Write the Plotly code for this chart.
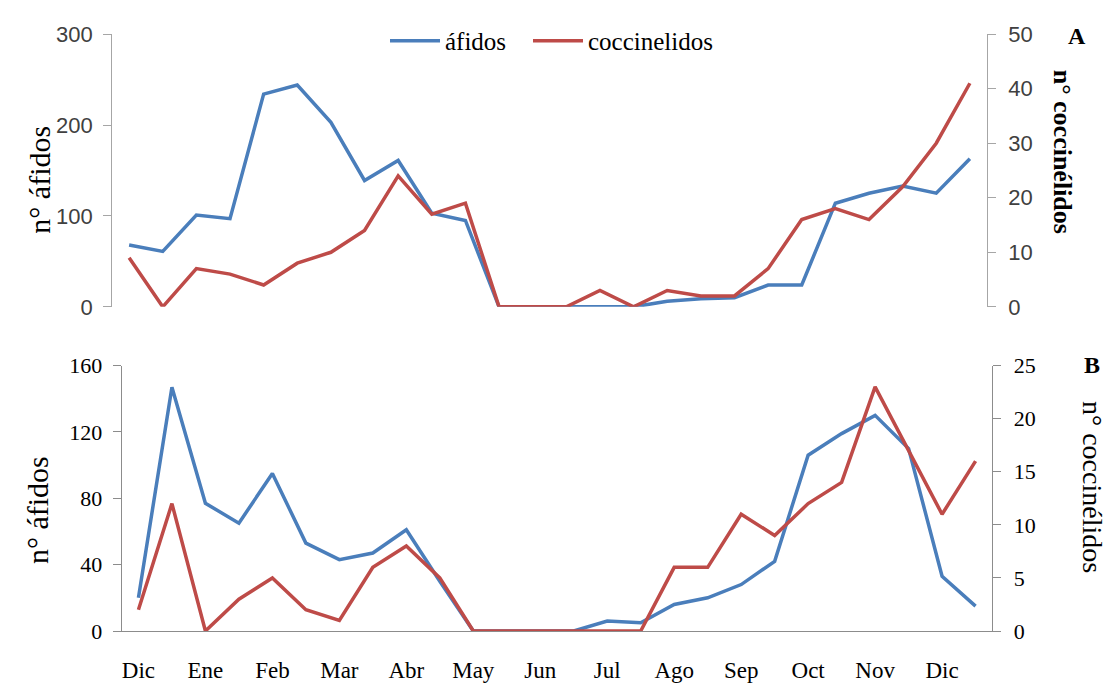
import plotly.graph_objects as go

# ---- data ----
months = ["Dic", "Ene", "Feb", "Mar", "Abr", "May", "Jun", "Jul", "Ago", "Sep", "Oct", "Nov", "Dic"]
n_points = 26  # two samples per month

# Panel A
a_afidos = [68, 61, 101, 97, 234, 244, 203, 139, 161, 103, 95, 0, 0, 0, 0, 0, 6, 9, 10, 24, 24, 114, 125, 133, 125, 163]
a_cocc = [9, 0, 7, 6, 4, 8, 10, 14, 24, 17, 19, 0, 0, 0, 3, 0, 3, 2, 2, 7, 16, 18, 16, 22, 30, 41]

# Panel B
b_afidos = [20, 147, 77, 65, 95, 53, 43, 47, 61, 30, 0, 0, 0, 0, 6, 5, 16, 20, 28, 42, 106, 119, 130, 110, 33, 15]
b_cocc = [2, 12, 0, 3, 5, 2, 1, 6, 8, 5, 0, 0, 0, 0, 0, 0, 6, 6, 11, 9, 12, 14, 23, 17, 11, 16]

xs = list(range(n_points))
tickpos = list(range(0, n_points, 2))

BLUE = "#4a7ebb"
RED = "#be4b48"
SERIF = "Liberation Serif, Times New Roman, serif"
SANS = "Liberation Sans, Arial, sans-serif"
W, H = 1117, 684
LW = 3.5

def px(x):
    return x / W

def py(y):
    return (H - y) / H

fig = go.Figure()

fig.add_trace(go.Scatter(x=xs, y=a_afidos, mode="lines", name="áfidos", legendwidth=78,
                         line=dict(color=BLUE, width=LW), xaxis="x", yaxis="y"))
fig.add_trace(go.Scatter(x=xs, y=a_cocc, mode="lines", name="coccinelidos",
                         line=dict(color=RED, width=LW), xaxis="x", yaxis="y2"))
fig.add_trace(go.Scatter(x=xs, y=b_afidos, mode="lines", name="áfidos", showlegend=False,
                         line=dict(color=BLUE, width=LW), xaxis="x2", yaxis="y3"))
fig.add_trace(go.Scatter(x=xs, y=b_cocc, mode="lines", name="coccinelidos", showlegend=False,
                         line=dict(color=RED, width=LW), xaxis="x2", yaxis="y4"))

top_axis_col = "#a6a6a6"
bot_axis_col = "#8c8c8c"

fig.update_layout(
    width=W, height=H,
    margin=dict(l=0, r=0, t=0, b=0),
    paper_bgcolor="white", plot_bgcolor="white",
    showlegend=True,
    legend=dict(orientation="h", x=px(385), y=py(30), xanchor="left", yanchor="middle",
                font=dict(family=SERIF, size=25, color="#000"), bgcolor="rgba(0,0,0,0)",
                itemwidth=50, tracegroupgap=0),
    xaxis=dict(domain=[px(112.3), px(986.7)], range=[-0.5, n_points - 0.5],
               showline=False, showgrid=False, zeroline=False, showticklabels=False,
               ticks="", anchor="y"),
    yaxis=dict(domain=[py(306), py(23)], range=[0, 300], tickvals=[0, 100, 200, 300],
               showline=True, linecolor=top_axis_col, linewidth=1.3, ticks="outside",
               ticklen=8, tickcolor=top_axis_col, showgrid=False, zeroline=False,
               tickfont=dict(family=SANS, size=22, color="#404040"), ticklabelstandoff=6,
               anchor="x"),
    yaxis2=dict(overlaying="y", side="right", range=[0, 50], tickvals=[0, 10, 20, 30, 40, 50],
                showline=True, linecolor=top_axis_col, linewidth=1.3, ticks="outside",
                ticklen=8, tickcolor=top_axis_col, showgrid=False, zeroline=False,
                tickfont=dict(family=SANS, size=22, color="#404040"), ticklabelstandoff=8,
                anchor="x"),
    xaxis2=dict(domain=[px(121.7), px(992.3)], range=[-0.5, n_points - 0.5],
                tickvals=tickpos, ticktext=months, showline=True, linecolor=bot_axis_col,
                linewidth=1.3, ticks="", showgrid=False, zeroline=False,
                tickfont=dict(family=SERIF, size=23, color="#000"), ticklabelstandoff=18,
                anchor="y3"),
    yaxis3=dict(domain=[py(642.5), py(367)], range=[0, 160], tickvals=[0, 40, 80, 120, 160],
                showline=True, linecolor=bot_axis_col, linewidth=1.3, ticks="outside",
                ticklen=8, tickcolor=bot_axis_col, showgrid=False, zeroline=False,
                tickfont=dict(family=SERIF, size=22, color="#000"), ticklabelstandoff=6,
                anchor="x2"),
    yaxis4=dict(overlaying="y3", side="right", range=[0, 25], tickvals=[0, 5, 10, 15, 20, 25],
                showline=True, linecolor=bot_axis_col, linewidth=1.3, ticks="outside",
                ticklen=8, tickcolor=bot_axis_col, showgrid=False, zeroline=False,
                tickfont=dict(family=SERIF, size=22, color="#000"), ticklabelstandoff=8,
                anchor="x2"),
)

annotations = [
    dict(text="n° áfidos", x=px(40), y=py(174), textangle=-90,
         font=dict(family=SERIF, size=30, color="#000")),
    dict(text="n° áfidos", x=px(37), y=py(517), textangle=-90,
         font=dict(family=SERIF, size=30, color="#000")),
    dict(text="<b>n° coccinélidos</b>", x=px(1062), y=py(145), textangle=90,
         font=dict(family=SERIF, size=26, color="#000")),
    dict(text="n° coccinélidos", x=px(1092), y=py(493), textangle=90,
         font=dict(family=SERIF, size=28, color="#000")),
    dict(text="<b>A</b>", x=px(1077), y=py(25), font=dict(family=SERIF, size=24, color="#000")),
    dict(text="<b>B</b>", x=px(1092), y=py(366), font=dict(family=SERIF, size=24, color="#000")),
]
for a in annotations:
    a.update(xref="paper", yref="paper", showarrow=False, xanchor="center", yanchor="middle")
fig.update_layout(annotations=annotations)

fig.write_html("out.html")
